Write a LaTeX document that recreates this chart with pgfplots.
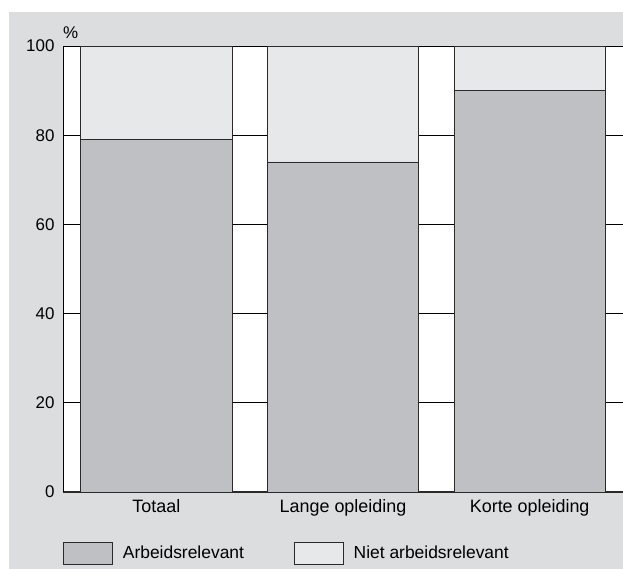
\documentclass[border=0pt]{standalone}
\usepackage{pgfplots}
\pgfplotsset{compat=1.18}
\usepackage{fontspec}
\setmainfont{Liberation Sans}

\definecolor{panel}{HTML}{DCDDDF}
\definecolor{arbeid}{HTML}{BFC0C3}
\definecolor{niet}{HTML}{E7E8EA}
\definecolor{edge}{HTML}{2A2A2A}

\begin{document}
\begin{tikzpicture}
\useasboundingbox (0bp,0bp) rectangle (623bp,569bp);
\fill[panel] (9bp,0bp) rectangle (623bp,557bp);
\begin{axis}[
    at={(63bp,77bp)}, anchor=south west,
    scale only axis, width=560bp, height=446bp,
    clip=false,
    axis background/.style={fill=white},
    ybar stacked, bar width=0.81,
    xmin=-0.5, xmax=2.5, ymin=0, ymax=100,
    xtick={0,1,2},
    xticklabels={Totaal, Lange opleiding, Korte opleiding},
    ytick={0,20,40,60,80,100},
    ymajorgrids, grid style={black, line width=0.7pt},
    major tick length=0pt,
    axis x line*=bottom, axis y line*=left,
    x axis line style={-, line width=1.4pt, draw=edge},
    y axis line style={-, line width=0.8pt, draw=black},
    /pgf/number format/assume math mode=true,
    yticklabel style={font=\fontsize{17}{19}\selectfont, xshift=-5bp},
    xticklabel style={font=\fontsize{18}{21}\selectfont, yshift=-4bp},
    legend style={at={(0,-0.137)}, anchor=west, draw=none, fill=none,
        inner sep=0pt, font=\fontsize{17.5}{20}\selectfont,
        /tikz/every odd column/.append style={column sep=8bp},
        /tikz/every even column/.append style={column sep=48bp}},
    legend columns=2,
]
\addplot[fill=arbeid, draw=edge, line width=0.7pt,
    legend image code/.code={\draw[fill=arbeid, draw=edge, line width=0.7pt] (0bp,-11bp) rectangle (49bp,11bp);}]
    coordinates {(0,79) (1,74) (2,90)};
\addlegendentry{Arbeidsrelevant}
\addplot[fill=niet, draw=edge, line width=0.7pt,
    legend image code/.code={\draw[fill=niet, draw=edge, line width=0.7pt] (0bp,-11bp) rectangle (49bp,11bp);}]
    coordinates {(0,21) (1,26) (2,10)};
\addlegendentry{Niet arbeidsrelevant}
\node[anchor=south west, inner sep=0pt, font=\fontsize{17}{19}\selectfont]
    at (axis description cs:0,1) [yshift=7bp] {\%};
\end{axis}
\end{tikzpicture}
\end{document}
